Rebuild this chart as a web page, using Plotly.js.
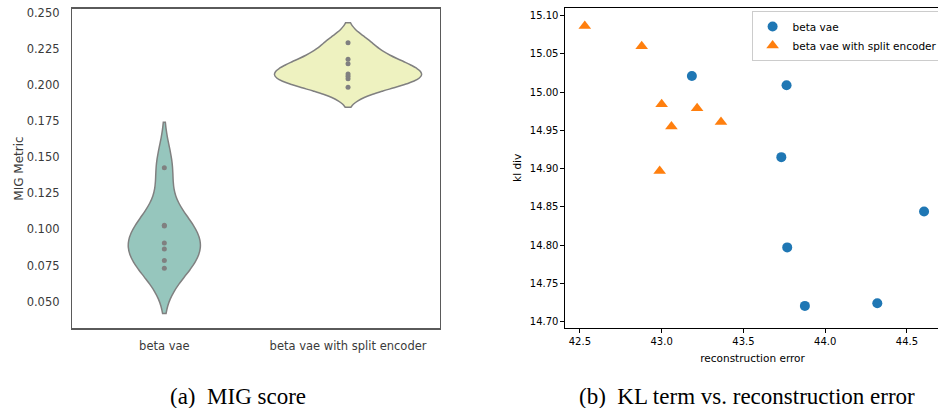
<!DOCTYPE html>
<html>
<head>
<meta charset="utf-8">
<script src="https://cdn.plot.ly/plotly-3.0.1.min.js"></script>
<style>
  html, body { margin: 0; padding: 0; overflow: hidden; background: #fff; }
  #chart { width: 943px; height: 408px; }
</style>
</head>
<body>
<div id="chart"></div>
<script>
// ---- Data: (a) MIG score violin ----
const violinCategories = ["beta vae", "beta vae with split encoder"];
const migBetaVae = [0.1427, 0.1029, 0.1023, 0.0906, 0.0865, 0.0784, 0.0731];
const migSplitEncoder = [0.2292, 0.2177, 0.2146, 0.2076, 0.2060, 0.2043, 0.1984];

// ---- Data: (b) KL term vs reconstruction error ----
const betaVaeRecon = [43.185, 43.764, 43.732, 44.605, 43.768, 43.876, 44.319];
const betaVaeKL    = [15.021, 15.009, 14.915, 14.844, 14.797, 14.7205, 14.724];
const splitRecon   = [42.530, 42.878, 43.000, 43.060, 43.217, 43.363, 42.988];
const splitKL      = [15.0865, 15.060, 14.984, 14.955, 14.979, 14.961, 14.897];

const scatterNames = ["beta vae", "beta vae with split encoder"];
const captions = ["(a)\u00a0\u00a0MIG score", "(b)\u00a0\u00a0KL term vs. reconstruction error"];

const W = 943, H = 408;
const px = v => v / W;
const py = v => 1 - v / H;

function kde_bw(arr) {
  const n = arr.length;
  const m = arr.reduce((a, b) => a + b, 0) / n;
  const sd = Math.sqrt(arr.reduce((a, b) => a + (b - m) * (b - m), 0) / (n - 1));
  return sd * Math.pow(n, -0.2);
}

const violinFill = ["#96c6bd", "#eef2c0"];
const violinWidth = [0.392, 0.801];
const violinData = [migBetaVae, migSplitEncoder];

const traces = violinData.map((vals, i) => ({
  type: "violin",
  x: vals.map(() => violinCategories[i]),
  y: vals,
  xaxis: "x", yaxis: "y",
  name: violinCategories[i],
  showlegend: false,
  bandwidth: kde_bw(vals),
  spanmode: "soft",
  width: violinWidth[i],
  fillcolor: violinFill[i],
  line: { color: "#808080", width: 1.5 },
  points: "all",
  pointpos: 0,
  jitter: 0,
  marker: { color: "#808080", size: 5 },
  box: { visible: false },
  meanline: { visible: false },
  hoverinfo: "y"
}));

traces.push({
  type: "scatter", mode: "markers",
  x: betaVaeRecon, y: betaVaeKL,
  xaxis: "x2", yaxis: "y2",
  name: scatterNames[0],
  marker: { color: "#1f77b4", size: 10, symbol: "circle" }
});
traces.push({
  type: "scatter", mode: "markers",
  x: splitRecon, y: splitKL,
  xaxis: "x2", yaxis: "y2",
  name: scatterNames[1],
  marker: { color: "#ff7f0e", size: 11, symbol: "triangle-up" }
});

const leftFont = { family: "DejaVu Sans", size: 11.5, color: "#3a3a3a" };
const rightFont = { family: "DejaVu Sans", size: 10, color: "#000" };

const layout = {
  width: W, height: H,
  margin: { l: 0, r: 0, t: 0, b: 0 },
  paper_bgcolor: "#fff",
  plot_bgcolor: "#fff",
  violinmode: "overlay",
  showlegend: true,
  xaxis: {
    domain: [px(72.7), px(441.3)],
    type: "category",
    categoryarray: violinCategories,
    range: [-0.5, 1.5],
    showline: true, mirror: true, linecolor: "#5a5a5a", linewidth: 1.6,
    showgrid: false, zeroline: false, ticks: "",
    ticklabelstandoff: 6,
    tickfont: leftFont,
    anchor: "y"
  },
  yaxis: {
    domain: [py(328.3), py(8.67)],
    range: [0.03154, 0.25277],
    tickvals: [0.05, 0.075, 0.1, 0.125, 0.15, 0.175, 0.2, 0.225, 0.25],
    tickformat: ".3f",
    showline: true, mirror: true, linecolor: "#5a5a5a", linewidth: 1.6,
    showgrid: false, zeroline: false, ticks: "",
    ticklabelstandoff: 9,
    tickfont: leftFont,
    title: { text: "MIG Metric", font: { family: "DejaVu Sans", size: 12, color: "#3a3a3a" }, standoff: 0 },
    anchor: "x"
  },
  xaxis2: {
    domain: [px(567.3), px(942.6)],
    range: [42.412, 44.700],
    tick0: 42.5, dtick: 0.5, tickformat: ".1f",
    showline: true, mirror: true, linecolor: "#000", linewidth: 1,
    showgrid: false, zeroline: false,
    ticks: "outside", ticklen: 4, tickwidth: 1, tickcolor: "#000",
    tickfont: rightFont,
    title: { text: "reconstruction error", font: { family: "DejaVu Sans", size: 10.5, color: "#000" }, standoff: 8 },
    anchor: "y2"
  },
  yaxis2: {
    domain: [py(327.7), py(8)],
    range: [14.692, 15.110],
    tick0: 14.7, dtick: 0.05, tickformat: ".2f",
    showline: true, mirror: true, linecolor: "#000", linewidth: 1,
    showgrid: false, zeroline: false,
    ticks: "outside", ticklen: 4, tickwidth: 1, tickcolor: "#000",
    tickfont: rightFont,
    title: { text: "kl div", font: { family: "DejaVu Sans", size: 10.5, color: "#000" }, standoff: 6 },
    anchor: "x2"
  },
  legend: {
    x: px(754), y: py(11), xanchor: "left", yanchor: "top",
    bgcolor: "rgba(255,255,255,0.85)",
    bordercolor: "#cccccc", borderwidth: 1,
    font: { family: "DejaVu Sans", size: 10.5, color: "#000" },
    tracegroupgap: 0
  },
  annotations: [
    { text: captions[0], x: px(239), y: py(396), xref: "paper", yref: "paper",
      xanchor: "center", yanchor: "middle", showarrow: false,
      font: { family: "Liberation Serif", size: 23, color: "#000" } },
    { text: captions[1], x: px(749.7), y: py(396), xref: "paper", yref: "paper",
      xanchor: "center", yanchor: "middle", showarrow: false,
      font: { family: "Liberation Serif", size: 23, color: "#000" } }
  ]
};

Plotly.newPlot("chart", traces, layout, { displayModeBar: false, staticPlot: true });
</script>
</body>
</html>
